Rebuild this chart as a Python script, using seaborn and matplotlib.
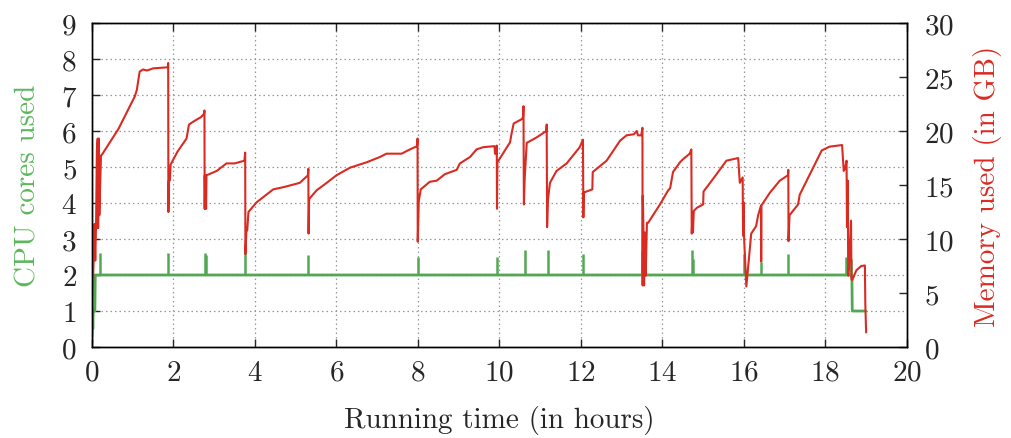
import numpy as np
import pandas as pd
import matplotlib
matplotlib.use("Agg")
import matplotlib.pyplot as plt
import seaborn as sns

# memory used (GB) vs running time (hours)
mem_t = [0.00, 0.02, 0.04, 0.06, 0.08, 0.10, 0.12, 0.14, 0.15, 0.17, 0.18, 0.22, 0.26,
         0.65, 1.05, 1.10, 1.14, 1.17, 1.25, 1.35, 1.50, 1.86, 1.87, 1.875, 1.885, 1.91,
         1.93, 2.10, 2.32, 2.38, 2.50, 2.68, 2.75, 2.76, 2.765, 2.77, 2.78, 2.79, 2.80,
         2.81, 3.06, 3.30, 3.50, 3.74, 3.76, 3.765, 3.79, 3.81, 3.84, 4.04, 4.45, 4.70,
         5.10, 5.30, 5.31, 5.315, 5.33, 5.51, 5.76, 6.00, 6.33, 6.74, 7.07, 7.23, 7.60,
         7.75, 7.98, 7.99, 7.995, 8.02, 8.07, 8.29, 8.46, 8.66, 8.95, 9.03, 9.28, 9.44,
         9.60, 9.88, 9.89, 9.93, 9.935, 9.94, 9.95, 10.26, 10.30, 10.35, 10.55, 10.58,
         10.59, 10.60, 10.62, 10.67, 10.91, 11.15, 11.16, 11.17, 11.19, 11.24, 11.40,
         11.65, 11.97, 12.05, 12.06, 12.07, 12.28, 12.29, 12.63, 12.96, 13.12, 13.30,
         13.37, 13.40, 13.48, 13.51, 13.515, 13.52, 13.53, 13.55, 13.57, 13.59, 13.62,
         13.65, 13.94, 14.14, 14.19, 14.26, 14.43, 14.51, 14.67, 14.71, 14.72, 14.74,
         14.75, 14.77, 14.85, 15.00, 15.01, 15.25, 15.57, 15.86, 15.90, 15.97, 15.98,
         15.99, 16.00, 16.06, 16.14, 16.18, 16.30, 16.35, 16.42, 16.425, 16.43, 16.64,
         16.88, 17.08, 17.09, 17.095, 17.12, 17.33, 17.37, 17.70, 17.91, 18.10, 18.41,
         18.45, 18.48, 18.52, 18.53, 18.55, 18.56, 18.58, 18.63, 18.64, 18.66, 18.76,
         18.88, 18.97, 18.98, 19.00]
mem_gb = [0.3, 5.4, 8.1, 11.4, 8.0, 11.4, 18.2, 19.3, 11.0, 19.3, 12.2, 17.7, 17.9,
          20.2, 23.2, 23.8, 24.8, 25.5, 25.7, 25.6, 25.8, 25.9, 26.3, 12.5, 15.4, 15.4,
          16.9, 18.1, 19.3, 20.6, 20.9, 21.3, 21.6, 21.9, 12.8, 15.9, 12.8, 15.9, 12.8,
          15.9, 16.3, 17.0, 17.0, 17.25, 18.0, 8.6, 10.8, 10.8, 12.5, 13.4, 14.6, 14.8,
          15.2, 15.9, 16.5, 10.5, 13.7, 14.5, 15.2, 15.9, 16.6, 17.1, 17.6, 17.9, 17.9,
          18.2, 18.6, 19.3, 9.75, 13.5, 14.6, 15.3, 15.4, 16.0, 16.4, 17.0, 17.6, 18.3,
          18.5, 18.6, 17.9, 17.9, 18.65, 12.8, 17.1, 18.95, 19.8, 20.7, 21.1, 21.3,
          22.3, 13.2, 15.6, 18.9, 19.4, 20.0, 20.6, 11.1, 13.6, 15.2, 16.3,
          17.0, 18.5, 19.2, 12.0, 14.3, 14.6, 16.2, 17.25, 19.1, 19.6, 19.7,
          20.0, 19.6, 19.6, 20.3, 5.7, 14.0, 11.85, 5.7, 10.6, 6.6, 11.5,
          11.5, 13.2, 14.5, 14.7, 16.2, 17.1, 17.4, 17.9, 18.3, 10.5, 12.5,
          10.6, 12.6, 12.9, 13.2, 14.4, 15.6, 17.25, 17.5, 15.2, 15.7, 10.3,
          13.4, 10.5, 5.6, 8.8, 10.5, 11.2, 12.2, 13.1, 7.9, 13.1, 14.3,
          15.4, 15.9, 16.4, 9.8, 12.2, 13.2, 14.1, 16.6, 18.2, 18.55, 18.7,
          16.3, 16.5, 17.25, 11.1, 15.4, 6.6, 7.5, 11.7, 6.3, 6.2, 7.1,
          7.5, 7.55, 4.0, 1.35]

# CPU cores used: base level changes plus short spikes above the 2-core level
cpu_t = [0.00, 0.01, 0.02, 0.03, 0.07, 0.08, 18.65, 18.66, 18.99]
cpu_cores = [0.3, 1.05, 0.5, 1.0, 1.0, 2.0, 2.0, 1.0, 1.0]
spike_t = [0.20, 1.87, 2.77, 2.81, 3.76, 5.31, 7.99, 9.94, 10.63, 11.18, 12.06,
           13.51, 14.72, 14.75, 16.00, 16.43, 17.09, 18.50, 18.64]
spike_top = [2.6, 2.6, 2.6, 2.55, 2.6, 2.55, 2.49, 2.49, 2.7, 2.7, 2.57,
             2.67, 2.7, 2.45, 2.57, 2.35, 2.57, 2.5, 2.45]

GREEN = "#52a852"
RED = "#da2b22"

sns.set_style("ticks")
plt.rcParams.update({
    "font.family": "cmr10",
    "mathtext.fontset": "cm",
    "axes.formatter.use_mathtext": True,
    "font.size": 21,
    "axes.linewidth": 1.0,
})

mem = pd.DataFrame({"hours": mem_t, "gb": mem_gb})
cpu = pd.DataFrame({"hours": cpu_t, "cores": cpu_cores})

fig = plt.figure(figsize=(10.11, 4.39), dpi=100)
ax = fig.add_axes([0.091, 0.2073, 0.806, 0.738])
ax2 = ax.twinx()

sns.lineplot(data=cpu, x="hours", y="cores", ax=ax, color=GREEN, lw=2.0,
             estimator=None, sort=False)
ax.vlines(spike_t, 2.0, spike_top, color=GREEN, lw=1.8)
sns.lineplot(data=mem, x="hours", y="gb", ax=ax2, color=RED, lw=1.5,
             estimator=None, sort=False)

ax.set_xlim(0, 20)
ax.set_ylim(0, 9)
ax2.set_ylim(0, 30)
ax.set_xticks(range(0, 21, 2))
ax.set_yticks(range(0, 10))
ax2.set_yticks(range(0, 31, 5))

ax.grid(True, color="#999999", linestyle=(0, (1.2, 2.4)), lw=0.9)
ax.set_axisbelow(True)

ax.tick_params(axis="x", direction="in", length=6, width=1, top=True, pad=9,
               labelsize=21)
ax.tick_params(axis="y", direction="in", length=6, width=1, right=False, pad=11,
               labelsize=21)
ax2.tick_params(axis="y", direction="in", length=6, width=1, pad=12, labelsize=21)

ax.set_xlabel("Running time (in hours)", fontsize=21, labelpad=14)
ax.set_ylabel("CPU cores used", fontsize=21, color="#5cb85c", labelpad=14)
ax2.set_ylabel("Memory used (in GB)", fontsize=21, color=RED, labelpad=14)

for a in (ax, ax2):
    for s in a.spines.values():
        s.set_visible(True)
        s.set_color("black")
        s.set_linewidth(1.0)

fig.savefig("out.png", dpi=100)
